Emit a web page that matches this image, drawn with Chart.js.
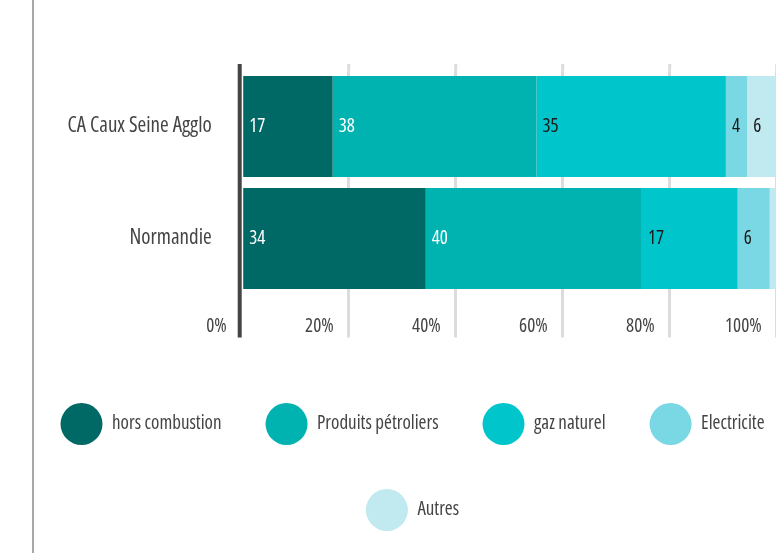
<!DOCTYPE html>
<html>
<head>
<meta charset="utf-8">
<script src="https://cdn.jsdelivr.net/npm/chart.js@4/dist/chart.umd.min.js"></script>
<style>
  html, body { margin: 0; padding: 0; background: #fff; }
  body { width: 776px; height: 553px; overflow: hidden; position: relative; }
  #wrap { position: absolute; left: -5px; top: 0; width: 835px; height: 553px; }
  #sep { position: absolute; left: 32px; top: 0; width: 2px; height: 553px; background: #a8a8a8; }
</style>
</head>
<body>
<div id="wrap"><canvas id="myChart" width="835" height="553"></canvas></div>
<div id="sep"></div>
<script>
// data (% of total)
const categories = ["CA Caux Seine Agglo", "Normandie"];
const seriesNames = ["hors combustion", "Produits pétroliers", "gaz naturel", "Electricite", "Autres"];
const horsCombustion = [17.0, 34.4];
const produitsPetroliers = [38.1, 40.4];
const gazNaturel = [35.4, 17.9];
const electricite = [4.0, 6.0];
const autres = [5.5, 1.3];
// numbers printed in the bars
const horsLabels = ["17", "34"];
const petroleLabels = ["38", "40"];
const gazLabels = ["35", "17"];
const elecLabels = ["4", "6"];
const autresLabels = ["6", ""];
const xTicks = [0, 20, 40, 60, 80, 100];

const colors = ["#006966", "#00b2b0", "#00c6cb", "#7ad8e4", "#c0e9f0"];
const labelColors = ["#ffffff", "#ffffff", "#1a1a1a", "#1a1a1a", "#1a1a1a"];
// Open Sans has a condensed width, closest to the narrow font of the original
const FONT = { family: "'Open Sans', sans-serif", weight: "condensed", size: 19 };
const FONT_STR = "condensed 19px 'Open Sans', sans-serif";

// canvas is wider than the window (the original is cut on the right)
const CANVAS_LEFT = -5;
const PLOT_LEFT = 241.7;
const PLOT_RIGHT = 776.7;
const CANVAS_W = 835;

const values = [horsCombustion, produitsPetroliers, gazNaturel, electricite, autres];
const shown = [horsLabels, petroleLabels, gazLabels, elecLabels, autresLabels];

const datasets = seriesNames.map((name, i) => ({
  label: name,
  data: values[i],
  backgroundColor: colors[i],
  borderWidth: 0,
  xAxisID: "x",
  yAxisID: "y",
}));

// numbers inside the bars
const barLabels = {
  id: "barLabels",
  afterDatasetsDraw(chart) {
    const ctx = chart.ctx;
    ctx.save();
    ctx.font = FONT_STR;
    ctx.textBaseline = "middle";
    ctx.textAlign = "left";
    chart.data.datasets.forEach((ds, i) => {
      chart.getDatasetMeta(i).data.forEach((bar, j) => {
        const txt = shown[i][j];
        if (!txt) return;
        ctx.fillStyle = labelColors[i];
        ctx.fillText(txt, bar.base + 6, bar.y);
      });
    });
    ctx.restore();
  },
};

// dark axis line and top of the grid lines, a little past the plot area
const axisLine = {
  id: "axisLine",
  afterDatasetsDraw(chart) {
    const ctx = chart.ctx;
    const xs = chart.scales.x;
    const area = chart.chartArea;
    const top = area.top - 6.5;
    const bottom = area.bottom + xs.options.grid.tickLength;
    ctx.save();
    ctx.fillStyle = "#dcdcdc";
    xs.ticks.forEach((t) => {
      if (t.value === 0) return;
      const px = xs.getPixelForValue(t.value);
      ctx.fillRect(px - 1.5, top, 3, area.top - top);
    });
    ctx.fillStyle = "#444444";
    const x0 = xs.getPixelForValue(0);
    ctx.fillRect(x0 - 4, top, 4, bottom - top);
    ctx.restore();
  },
};

const config = {
  type: "bar",
  data: { labels: categories, datasets: datasets },
  options: {
    indexAxis: "y",
    responsive: false,
    animation: false,
    layout: { padding: { top: 70.5, bottom: 12, left: 0, right: 0 } },
    datasets: { bar: { barPercentage: 0.9, categoryPercentage: 1 } },
    scales: {
      x: {
        stacked: true,
        min: 0,
        max: 100,
        afterBuildTicks: (s) => { s.ticks = xTicks.map((v) => ({ value: v })); },
        afterFit: (s) => { s.height = 64.5; },
        border: { display: false },
        grid: {
          color: (c) => (c.tick && c.tick.value === 0 ? "rgba(0,0,0,0)" : "#dcdcdc"),
          lineWidth: 3,
          tickLength: 43,
        },
        ticks: {
          callback: (v) => v + "%",
          align: "end",
          labelOffset: -15,
          padding: -22,
          color: "#444444",
          font: FONT,
        },
      },
      y: {
        stacked: true,
        afterFit: (s) => { s.width = PLOT_LEFT - CANVAS_LEFT; },
        border: { display: false },
        grid: { display: false, drawTicks: false },
        ticks: { padding: 30, color: "#444444", font: { ...FONT, size: 21 } },
      },
      padR: {
        type: "linear",
        axis: "y",
        position: "right",
        afterFit: (s) => { s.width = CANVAS_LEFT + CANVAS_W - PLOT_RIGHT; },
        border: { display: false },
        grid: { display: false, drawTicks: false },
        ticks: { display: false },
      },
    },
    plugins: {
      tooltip: { enabled: false },
      legend: {
        position: "bottom",
        labels: {
          boxWidth: 42,
          boxHeight: 42,
          useBorderRadius: true,
          borderRadius: 21,
          padding: 44,
          color: "#444444",
          font: FONT,
        },
      },
    },
  },
  plugins: [barLabels, axisLine],
};

const myChart = new Chart(document.getElementById("myChart"), config);
</script>
</body>
</html>
